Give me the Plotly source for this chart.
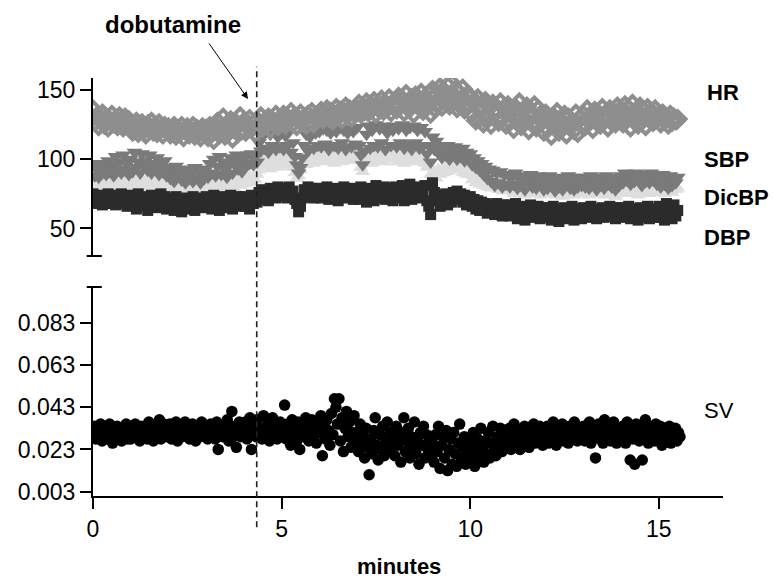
import plotly.graph_objects as go

# Top panel: one reading every 0.05 min
SAMPLE_TOP = 0.05
# Stroke volume: one reading every 0.04 min
SAMPLE_SV = 0.04
# Start of dobutamine infusion (minutes)
DOBUTAMINE_T = 4.34

hr = [136, 127, 131, 124, 129, 133, 125, 130, 123, 128, 132, 126, 129, 124, 131, 127, 123, 130, 125, 128,
      126, 120, 124, 127, 119, 123, 126, 121, 118, 125, 122, 127, 120, 124, 119, 126, 122, 118, 124, 121,
      123, 118, 121, 124, 117, 122, 119, 124, 116, 121, 123, 118, 120, 124, 117, 122, 119, 116, 123, 120,
      122, 116, 124, 119, 114, 123, 127, 118, 121, 130, 117, 124, 120, 128, 115, 122, 126, 119, 131, 121,
      127, 120, 124, 129, 122, 126, 119, 128, 124, 131, 123, 127, 125, 130, 122, 128, 126, 132, 124, 129,
      127, 132, 125, 130, 128, 134, 126, 131, 124, 129, 133, 127, 130, 125, 132, 128, 134, 126, 131, 129,
      131, 135, 129, 133, 136, 130, 134, 128, 132, 137, 131, 135, 129, 134, 138, 132, 136, 130, 135, 133,
      136, 140, 133, 138, 135, 141, 134, 139, 137, 142, 133, 138, 136, 143, 135, 140, 137, 144, 134, 139,
      141, 136, 145, 139, 143, 134, 147, 140, 137, 144, 133, 146, 141, 138, 148, 135, 143, 139, 147, 133,
      150, 137, 146, 141, 152, 138, 148, 143, 153, 139, 155, 144, 150, 137, 148, 142, 151, 136, 146, 140,
      145, 133, 141, 128, 144, 136, 139, 126, 142, 131, 138, 125, 140, 133, 136, 127, 141, 130, 137, 125,
      139, 127, 134, 122, 137, 130, 141, 124, 135, 128, 138, 121, 133, 126, 139, 123, 136, 129, 132, 120,
      133, 122, 129, 117, 131, 125, 134, 120, 128, 124, 132, 118, 130, 123, 127, 121, 133, 119, 129, 125,
      132, 124, 136, 128, 130, 122, 135, 127, 133, 125, 137, 129, 131, 123, 136, 127, 134, 126, 138, 130,
      134, 126, 139, 130, 136, 123, 140, 128, 133, 125, 138, 131, 135, 124, 137, 129, 134, 127, 136, 130,
      131, 126, 133, 128, 130, 125, 132, 127, 130, 128, 129]

sbp = [96, 88, 93, 87, 97, 90, 94, 89, 99, 91, 96, 88, 102, 93, 98, 90, 103, 92, 97, 89,
       100, 91, 105, 94, 98, 90, 104, 95, 99, 92, 103, 90, 97, 93, 101, 89, 96, 91, 99, 88,
       94, 86, 92, 84, 95, 88, 91, 85, 93, 83, 90, 86, 92, 84, 94, 87, 89, 83, 91, 86,
       93, 87, 97, 90, 100, 88, 95, 102, 89, 98, 92, 87, 96, 101, 90, 97, 103, 93, 99, 91,
       101, 95, 103, 97, 104, 96, 102, 98, 112, 106, 117, 108, 120, 105, 118, 110, 121, 107, 116, 109,
       119, 107, 117, 110, 120, 105, 112, 102, 96, 90, 94, 101, 110, 118, 106, 116, 121, 108, 119, 110,
       120, 109, 122, 111, 121, 107, 119, 122, 110, 120, 108, 123, 112, 121, 107, 119, 122, 109, 120, 111,
       123, 110, 103, 96, 106, 118, 124, 108, 121, 110, 125, 109, 122, 112, 124, 107, 119, 123, 110, 121,
       124, 109, 122, 112, 125, 108, 121, 111, 123, 107, 124, 112, 121, 108, 123, 110, 120, 104, 110, 98,
       116, 107, 113, 105, 110, 101, 108, 103, 110, 100, 107, 104, 109, 100, 106, 102, 108, 99, 105, 101,
       104, 96, 101, 94, 99, 92, 97, 89, 95, 86, 93, 84, 92, 81, 90, 83, 91, 80, 89, 82,
       89, 80, 87, 82, 90, 79, 86, 81, 88, 78, 87, 83, 89, 80, 86, 79, 88, 82, 85, 78,
       86, 79, 88, 81, 84, 77, 87, 80, 85, 78, 86, 82, 88, 79, 84, 78, 87, 80, 85, 81,
       87, 80, 85, 79, 88, 82, 86, 78, 87, 81, 84, 79, 88, 82, 86, 80, 85, 78, 87, 81,
       88, 83, 90, 85, 87, 82, 89, 84, 90, 86, 88, 81, 89, 84, 87, 83, 90, 85, 88, 82,
       87, 80, 89, 82, 86, 79, 88, 81, 85, 83, 87]

dicbp = [81, 84, 79, 83, 80, 85, 78, 82, 84, 80, 86, 79, 83, 81, 85, 78, 82, 84, 80, 83,
         82, 85, 79, 84, 81, 87, 80, 83, 85, 79, 82, 86, 80, 84, 78, 83, 81, 85, 79, 82,
         80, 83, 78, 82, 79, 84, 77, 81, 83, 78, 80, 82, 77, 81, 79, 83, 78, 80, 82, 79,
         81, 84, 79, 83, 80, 86, 82, 79, 85, 81, 87, 80, 84, 82, 86, 79, 83, 88, 81, 85,
         82, 86, 84, 88, 83, 87, 85, 89, 92, 99, 95, 102, 97, 104, 93, 100, 96, 103, 94, 101,
         98, 104, 95, 101, 97, 103, 94, 90, 86, 88, 92, 98, 102, 96, 104, 99, 105, 97, 103, 100,
         104, 98, 107, 101, 105, 99, 108, 102, 97, 104, 100, 106, 98, 103, 101, 107, 99, 105, 102, 100,
         103, 99, 94, 91, 98, 104, 100, 106, 97, 103, 101, 107, 99, 104, 98, 105, 102, 106, 100, 103,
         104, 98, 106, 101, 103, 97, 107, 100, 105, 99, 102, 106, 98, 104, 100, 103, 97, 94, 96, 89,
         87, 91, 86, 93, 89, 92, 90, 94, 91, 96, 93, 98, 95, 97, 92, 95, 90, 93, 89, 91,
         89, 85, 88, 83, 86, 82, 87, 81, 84, 80, 85, 79, 83, 80, 82, 78, 83, 77, 81, 79,
         81, 77, 80, 75, 82, 78, 79, 76, 81, 74, 80, 77, 78, 75, 81, 76, 79, 74, 80, 77,
         79, 75, 81, 76, 78, 74, 80, 77, 79, 73, 81, 75, 78, 76, 80, 74, 79, 77, 81, 75,
         80, 75, 78, 74, 81, 76, 79, 75, 80, 77, 78, 74, 81, 76, 79, 75, 80, 73, 78, 76,
         81, 77, 79, 75, 82, 76, 80, 78, 81, 74, 79, 76, 82, 77, 80, 75, 81, 78, 79, 76,
         80, 76, 81, 75, 79, 77, 80, 76, 81, 78, 79]

dbp = [75, 68, 72, 70, 74, 67, 73, 69, 75, 68, 71, 74, 67, 72, 70, 75, 68, 73, 66, 71,
       74, 67, 71, 64, 75, 69, 72, 66, 73, 63, 70, 74, 68, 72, 65, 71, 75, 67, 73, 64,
       72, 65, 70, 63, 73, 67, 71, 62, 69, 72, 64, 70, 66, 73, 63, 71, 68, 72, 65, 70,
       73, 66, 71, 64, 74, 68, 72, 63, 70, 73, 65, 71, 67, 74, 64, 72, 69, 73, 66, 71,
       73, 66, 72, 64, 74, 68, 71, 69, 76, 71, 78, 73, 77, 70, 79, 74, 78, 72, 80, 75,
       79, 73, 78, 72, 80, 74, 77, 71, 68, 62, 66, 72, 78, 73, 80, 75, 79, 72, 78, 74,
       79, 72, 77, 74, 80, 71, 78, 73, 76, 79, 70, 77, 74, 80, 72, 78, 75, 79, 71, 77,
       78, 71, 80, 73, 76, 69, 79, 74, 77, 70, 81, 72, 78, 75, 80, 71, 77, 73, 79, 70,
       80, 72, 78, 74, 81, 70, 79, 73, 82, 71, 78, 75, 80, 72, 79, 74, 81, 70, 66, 60,
       83, 76, 70, 74, 66, 73, 68, 75, 67, 72, 69, 76, 71, 77, 73, 75, 69, 74, 67, 72,
       73, 66, 71, 64, 70, 63, 69, 65, 68, 61, 67, 63, 66, 60, 68, 62, 65, 59, 67, 61,
       67, 59, 65, 61, 68, 57, 64, 60, 66, 56, 65, 62, 67, 58, 64, 60, 66, 57, 65, 59,
       65, 58, 63, 56, 66, 59, 64, 55, 62, 60, 65, 57, 63, 59, 66, 56, 64, 58, 62, 57,
       65, 59, 63, 58, 66, 60, 64, 57, 62, 61, 65, 58, 63, 60, 66, 59, 64, 57, 65, 61,
       65, 58, 63, 60, 66, 57, 64, 59, 62, 56, 65, 60, 63, 58, 66, 57, 64, 59, 62, 58,
       66, 58, 64, 56, 68, 60, 65, 57, 67, 59, 63]

sv = [0.031, 0.034, 0.028, 0.032, 0.029, 0.035, 0.027, 0.030, 0.033, 0.028, 0.031, 0.035, 0.029,
      0.026, 0.032, 0.030, 0.034, 0.028, 0.031, 0.027, 0.033, 0.029, 0.035, 0.028, 0.032,
      0.028, 0.034, 0.030, 0.035, 0.029, 0.032, 0.027, 0.034, 0.031, 0.029, 0.033, 0.028, 0.036,
      0.030, 0.032, 0.027, 0.034, 0.029, 0.033, 0.037, 0.028, 0.031, 0.035, 0.029, 0.033,
      0.030, 0.035, 0.028, 0.033, 0.029, 0.036, 0.027, 0.032, 0.034, 0.029, 0.031, 0.036, 0.030,
      0.033, 0.028, 0.032, 0.035, 0.030, 0.027, 0.034, 0.031, 0.029, 0.036, 0.032, 0.030,
      0.033, 0.028, 0.031, 0.035, 0.029, 0.032, 0.028, 0.036, 0.023, 0.031, 0.034, 0.029, 0.033,
      0.030, 0.037, 0.027, 0.032, 0.041, 0.029, 0.034, 0.024, 0.031, 0.036, 0.029, 0.033,
      0.030, 0.036, 0.028, 0.033, 0.038, 0.023, 0.031, 0.034, 0.029, 0.037, 0.030, 0.033, 0.028,
      0.039, 0.032, 0.029, 0.035, 0.027, 0.033, 0.038, 0.030, 0.034, 0.028, 0.032, 0.036,
      0.029, 0.033, 0.044, 0.028, 0.035, 0.031, 0.025, 0.037, 0.030, 0.033, 0.027, 0.036, 0.023,
      0.032, 0.034, 0.029, 0.038, 0.031, 0.027, 0.034, 0.037, 0.029, 0.033, 0.026, 0.035,
      0.031, 0.039, 0.020, 0.034, 0.028, 0.037, 0.032, 0.025, 0.040, 0.030, 0.047, 0.043, 0.035,
      0.047, 0.027, 0.038, 0.022, 0.033, 0.041, 0.029, 0.036, 0.024, 0.031, 0.039, 0.027,
      0.031, 0.022, 0.035, 0.026, 0.029, 0.019, 0.033, 0.024, 0.011, 0.028, 0.021, 0.032, 0.038,
      0.025, 0.018, 0.030, 0.023, 0.034, 0.020, 0.027, 0.036, 0.022, 0.031, 0.025, 0.029,
      0.020, 0.034, 0.025, 0.029, 0.017, 0.031, 0.038, 0.022, 0.027, 0.033, 0.019, 0.029, 0.024,
      0.036, 0.021, 0.028, 0.016, 0.031, 0.025, 0.034, 0.019, 0.030, 0.023, 0.027, 0.021,
      0.026, 0.017, 0.030, 0.022, 0.034, 0.014, 0.025, 0.029, 0.019, 0.032, 0.013, 0.023, 0.028,
      0.016, 0.031, 0.021, 0.015, 0.026, 0.035, 0.019, 0.024, 0.029, 0.016, 0.022, 0.027,
      0.018, 0.025, 0.031, 0.015, 0.022, 0.028, 0.019, 0.033, 0.024, 0.017, 0.027, 0.021, 0.031,
      0.019, 0.026, 0.034, 0.023, 0.020, 0.029, 0.025, 0.033, 0.022, 0.028, 0.024, 0.031,
      0.027, 0.033, 0.023, 0.030, 0.035, 0.025, 0.029, 0.032, 0.023, 0.031, 0.028, 0.034, 0.026,
      0.030, 0.024, 0.033, 0.028, 0.035, 0.026, 0.031, 0.028, 0.034, 0.029, 0.025, 0.032,
      0.029, 0.034, 0.026, 0.032, 0.028, 0.036, 0.030, 0.025, 0.033, 0.028, 0.031, 0.035, 0.027,
      0.033, 0.029, 0.026, 0.034, 0.030, 0.028, 0.036, 0.032, 0.027, 0.033, 0.029, 0.031,
      0.034, 0.027, 0.032, 0.029, 0.036, 0.026, 0.030, 0.033, 0.019, 0.029, 0.035, 0.028, 0.033,
      0.026, 0.037, 0.030, 0.028, 0.034, 0.027, 0.032, 0.036, 0.029, 0.026, 0.033, 0.030,
      0.028, 0.034, 0.031, 0.026, 0.036, 0.029, 0.018, 0.033, 0.028, 0.016, 0.035, 0.030, 0.027,
      0.034, 0.018, 0.029, 0.037, 0.031, 0.026, 0.034, 0.028, 0.033, 0.027, 0.035, 0.030,
      0.028, 0.034, 0.025, 0.031, 0.033, 0.027, 0.030, 0.034, 0.026, 0.032, 0.029, 0.033, 0.027,
      0.031, 0.029]

top_ticks = [50, 100, 150]
sv_ticks = [0.003, 0.023, 0.043, 0.063, 0.083]
sv_tick_text = ["0.003", "0.023", "0.043", "0.063", "0.083"]
x_ticks = [0, 5, 10, 15]


def minutes(values, step):
    return [round(i * step, 3) for i in range(len(values))]


FONT = "Liberation Sans, Arial, Helvetica, sans-serif"

fig = go.Figure()

# Top panel: pressures and heart rate (drawn back to front)
fig.add_trace(go.Scatter(
    x=minutes(dicbp, SAMPLE_TOP), y=dicbp, xaxis="x2", yaxis="y2", mode="markers",
    marker=dict(symbol="triangle-up", size=13, color="#dedede", line=dict(width=0)),
    name="DicBP", hoverinfo="skip"))
fig.add_trace(go.Scatter(
    x=minutes(dbp, SAMPLE_TOP), y=dbp, xaxis="x2", yaxis="y2", mode="markers",
    marker=dict(symbol="square", size=11, color="#2b2b2b", line=dict(width=0)),
    name="DBP", hoverinfo="skip"))
fig.add_trace(go.Scatter(
    x=minutes(sbp, SAMPLE_TOP), y=sbp, xaxis="x2", yaxis="y2", mode="markers",
    marker=dict(symbol="triangle-down", size=14, color="#7a7a7a", line=dict(width=0)),
    name="SBP", hoverinfo="skip"))
fig.add_trace(go.Scatter(
    x=minutes(hr, SAMPLE_TOP), y=hr, xaxis="x2", yaxis="y2", mode="markers",
    marker=dict(symbol="diamond-open", size=12, color="#8e8e8e", line=dict(width=4)),
    name="HR", hoverinfo="skip"))

# Bottom panel: stroke volume
fig.add_trace(go.Scatter(
    x=minutes(sv, SAMPLE_SV), y=sv, xaxis="x", yaxis="y", mode="markers",
    marker=dict(symbol="circle", size=11.5, color="#000000", line=dict(width=0)),
    name="SV", hoverinfo="skip"))

axis_font = dict(family=FONT, size=23, color="#000000")

fig.update_layout(
    width=773, height=580,
    margin=dict(l=93, r=50, t=78, b=84),
    paper_bgcolor="white", plot_bgcolor="white",
    showlegend=False,
    font=dict(family=FONT, color="#000000"),
    xaxis=dict(domain=[0, 1], anchor="y", range=[0, 16.7],
               tickvals=x_ticks, ticks="outside", ticklen=11, tickwidth=2,
               tickcolor="#000", showline=True, linecolor="#000", linewidth=2,
               showgrid=False, zeroline=False, tickfont=axis_font),
    xaxis2=dict(domain=[0, 1], anchor="y2", matches="x", visible=False,
                showgrid=False, zeroline=False),
    yaxis=dict(domain=[0, 0.5], anchor="x", range=[0.00096, 0.0999],
               tickvals=sv_ticks, ticktext=sv_tick_text, ticks="outside",
               ticklen=11, tickwidth=2, tickcolor="#000", showline=True,
               linecolor="#000", linewidth=2, showgrid=False, zeroline=False,
               tickfont=axis_font),
    yaxis2=dict(domain=[0.5742, 1], anchor="x2", range=[30.1, 158.7],
                tickvals=top_ticks, ticks="outside", ticklen=11, tickwidth=2,
                tickcolor="#000", showline=True, linecolor="#000", linewidth=2,
                showgrid=False, zeroline=False, tickfont=axis_font),
)

shapes = [
    # infusion marker
    dict(type="line", xref="x", yref="paper", x0=DOBUTAMINE_T, x1=DOBUTAMINE_T,
         y0=-0.075, y1=1.027, line=dict(color="#222222", width=1.6, dash="6px,4px")),
    # end caps on the broken y axis
    dict(type="line", xref="paper", yref="y2 domain", x0=-0.010, x1=0.014,
         y0=0, y1=0, line=dict(color="#000", width=2)),
    dict(type="line", xref="paper", yref="y domain", x0=-0.010, x1=0.014,
         y0=1, y1=1, line=dict(color="#000", width=2)),
]
fig.update_layout(shapes=shapes)

label_font = dict(family=FONT, size=22, color="#000000")
labels = [("HR", 0.9714, 0.9665, True), ("SBP", 0.9667, 0.806, True),
          ("DicBP", 0.9667, 0.713, True), ("DBP", 0.9667, 0.6196, True),
          ("SV", 0.9667, 0.2057, False)]
annotations = []
for text, xp, yp, bold in labels:
    annotations.append(dict(
        text=f"<b>{text}</b>" if bold else text, xref="paper", yref="paper",
        x=xp, y=yp, xanchor="left", yanchor="middle", showarrow=False,
        font=label_font))

annotations.append(dict(
    text="<b>minutes</b>", xref="paper", yref="paper", x=0.486, y=-0.1675,
    xanchor="center", yanchor="middle", showarrow=False, font=label_font))
annotations.append(dict(
    text="<b>dobutamine</b>", xref="paper", yref="paper", x=0.127, y=1.129,
    xanchor="center", yanchor="middle", showarrow=False,
    font=dict(family=FONT, size=24, color="#000000")))
annotations.append(dict(
    text="", xref="paper", yref="paper", x=0.246, y=0.95, ax=-40, ay=-57,
    showarrow=True, arrowhead=2, arrowsize=1.4, arrowwidth=1, arrowcolor="#000"))
fig.update_layout(annotations=annotations)

fig.write_html("out.html")
